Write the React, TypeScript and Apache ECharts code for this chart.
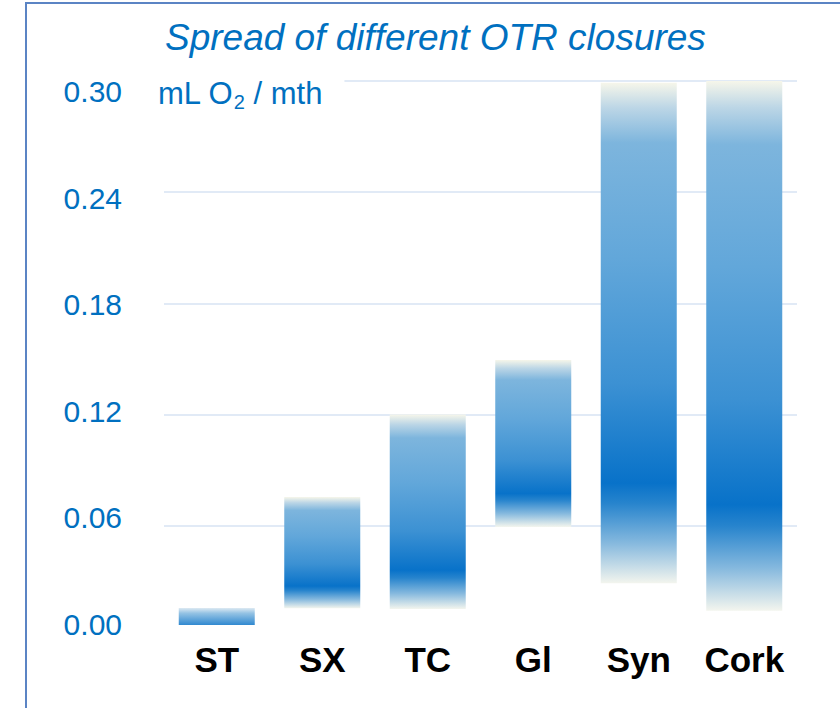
import React, { useEffect, useRef } from "react";
import * as echarts from "echarts";

const categories = ["ST", "SX", "TC", "Gl", "Syn", "Cork"];
const lowValues = [0.0065, 0.0155, 0.0151, 0.0594, 0.029, 0.0142];
const highValues = [0.0156, 0.0755, 0.12, 0.1495, 0.299, 0.3];
const yTickValues = [0, 0.06, 0.12, 0.18, 0.24, 0.3];
const titleText = "Spread of different OTR closures";

const FONT = "'Liberation Sans', Arial, sans-serif";
const BLUE = "#0070C0";

const spreadStops = [
  { offset: 0, color: "#f6f6ea" },
  { offset: 0.05, color: "#bcd6e6" },
  { offset: 0.12, color: "#7db5dd" },
  { offset: 0.35, color: "#62a7da" },
  { offset: 0.6, color: "#3c91d3" },
  { offset: 0.8, color: "#0872c9" },
  { offset: 0.84, color: "#2784cd" },
  { offset: 0.92, color: "#86b9de" },
  { offset: 1, color: "#f3f5ee" },
];
const smallStops = [
  { offset: 0, color: "#dce9f2" },
  { offset: 0.3, color: "#95c3e4" },
  { offset: 1, color: "#3189d0" },
];

export default function App() {
  const ref = useRef<HTMLDivElement>(null);
  useEffect(() => {
    if (!ref.current) return;
    const chart = echarts.init(ref.current, undefined, { renderer: "svg" });
    const grad = (stops: any[]) =>
      new echarts.graphic.LinearGradient(0, 0, 0, 1, stops);
    const rangeData = categories.map((c, i) => ({
      value: +(highValues[i] - lowValues[i]).toFixed(4),
      itemStyle: {
        color: grad(i === 0 ? smallStops : spreadStops),
      },
    }));
    chart.setOption({
      animation: false,
      backgroundColor: "#ffffff",
      title: {
        text: titleText,
        left: 160,
        top: 14,
        textStyle: {
          fontFamily: FONT,
          fontSize: 37,
          fontStyle: "italic",
          fontWeight: "normal",
          color: BLUE,
        },
      },
      grid: { left: 164, right: 43, top: 81, bottom: 71 },
      xAxis: {
        type: "category",
        data: categories,
        axisLine: { show: false },
        axisTick: { show: false },
        axisLabel: {
          margin: 5,
          fontFamily: FONT,
          fontSize: 35,
          fontWeight: "bold",
          color: "#000000",
        },
      },
      yAxis: [
        {
          type: "value",
          min: 0,
          max: 0.3,
          interval: 0.06,
          axisLine: { show: false },
          axisTick: { show: false },
          axisLabel: { show: false },
          splitLine: {
            show: true,
            showMinLine: false,
            lineStyle: { color: "#e1eaf6", width: 2 },
          },
        },
        {
          type: "value",
          position: "left",
          min: -0.00733,
          max: 0.3062,
          axisLine: { show: false },
          axisTick: { show: false },
          splitLine: { show: false },
          axisLabel: {
            customValues: yTickValues,
            margin: 42,
            fontFamily: FONT,
            fontSize: 30,
            color: BLUE,
            formatter: (v: number) => v.toFixed(2),
          },
        },
      ],
      series: [
        {
          type: "bar",
          stack: "spread",
          yAxisIndex: 0,
          barWidth: 76,
          itemStyle: { color: "rgba(0,0,0,0)" },
          data: lowValues,
          silent: true,
        },
        {
          type: "bar",
          stack: "spread",
          yAxisIndex: 0,
          barWidth: 76,
          data: rangeData,
        },
      ],
      graphic: [
        {
          type: "rect",
          z: 100,
          shape: { x: 26, y: 3, width: 900, height: 800 },
          style: { fill: "none", stroke: "#5b84c4", lineWidth: 2 },
        },
        {
          type: "text",
          z: 100,
          left: 154,
          top: 71,
          style: {
            text: "{a|mL O}{s|2}{a| / mth}",
            backgroundColor: "#ffffff",
            padding: [4, 22, 4, 4],
            fill: BLUE,
            rich: {
              a: { fontFamily: FONT, fontSize: 31, fill: BLUE, lineHeight: 36 },
              s: {
                fontFamily: FONT,
                fontSize: 20,
                fill: BLUE,
                lineHeight: 36,
                padding: [17, 0, 0, 0],
              },
            },
          },
        },
      ],
    });
    return () => chart.dispose();
  }, []);
  return (
    <div
      ref={ref}
      style={{ position: "fixed", left: 0, top: 0, width: 840, height: 708 }}
    />
  );
}
